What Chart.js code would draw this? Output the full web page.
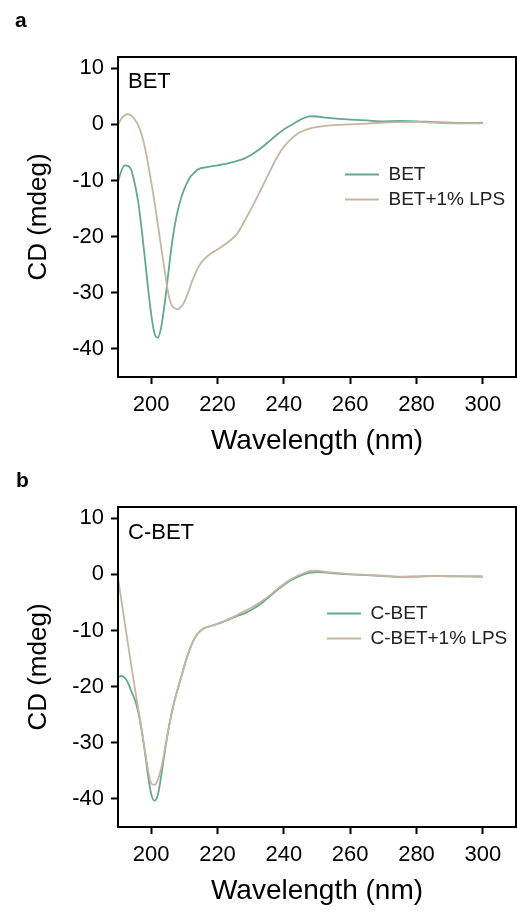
<!DOCTYPE html>
<html>
<head>
<meta charset="utf-8">
<script src="https://cdn.jsdelivr.net/npm/chart.js@4"></script>
<style>
html, body { margin: 0; padding: 0; background: #fff; }
#wrap { position: relative; width: 517px; height: 915px; overflow: hidden; }
.panel { position: absolute; left: 0; width: 517px; height: 465px; }
</style>
</head>
<body>
<div id="wrap">
  <div class="panel" style="top:0px"><canvas id="chartA"></canvas></div>
  <div class="panel" style="top:450px"><canvas id="chartB"></canvas></div>
</div>
<script>
// ---------- data ----------
const wavelengthA = [190,191,192,193,194,195,196,197,198,199,200,201,202,203,204,205,206,207,208,209,210,211,212,213,214,215,216,218,220,222,224,226,228,230,232,234,236,238,240,242,244,246,248,250,252,255,260,265,270,275,280,285,290,295,300];
const betValues = [-10.2,-8.3,-7.3,-7.4,-8.1,-10.4,-13.5,-18.0,-23.3,-28.8,-33.8,-37.2,-38.0,-36.2,-32.3,-27.4,-22.4,-18.4,-15.4,-13.2,-11.5,-10.2,-9.2,-8.6,-8.1,-7.8,-7.7,-7.5,-7.3,-7.1,-6.8,-6.5,-6.1,-5.5,-4.7,-3.8,-2.8,-1.8,-0.9,-0.2,0.5,1.1,1.45,1.4,1.25,1.05,0.85,0.7,0.55,0.6,0.55,0.4,0.3,0.25,0.3];
const betLpsValues = [-0.1,1.0,1.6,1.8,1.6,0.9,0.0,-1.6,-3.8,-6.8,-10.2,-13.8,-17.8,-21.8,-25.8,-29.6,-32.0,-32.7,-32.9,-32.5,-31.6,-30.2,-28.5,-27.0,-25.7,-24.7,-24.0,-23.0,-22.3,-21.5,-20.6,-19.4,-17.4,-15.2,-12.9,-10.5,-8.1,-5.8,-4.0,-2.7,-1.7,-1.1,-0.7,-0.45,-0.3,-0.15,0.0,0.15,0.3,0.4,0.45,0.3,0.2,0.2,0.2];

const wavelengthB = [190,191,192,193,194,195,196,197,198,199,200,201,202,203,204,205,206,207,208,209,210,211,212,213,214,215,216,218,220,222,224,226,228,230,232,234,236,238,240,242,244,246,248,250,252,255,260,265,270,275,280,285,290,295,300];
const cbetValues = [-18.3,-18.1,-18.4,-19.3,-20.8,-22.2,-24.2,-27.3,-31.2,-35.6,-39.1,-40.3,-39.3,-36.0,-32.0,-28.3,-25.2,-22.6,-20.4,-18.4,-16.3,-14.4,-12.8,-11.5,-10.6,-10.0,-9.6,-9.2,-8.8,-8.4,-7.9,-7.4,-7.0,-6.4,-5.7,-4.8,-3.8,-2.8,-1.9,-1.1,-0.5,0.0,0.3,0.4,0.35,0.2,0.0,-0.15,-0.3,-0.45,-0.4,-0.3,-0.35,-0.35,-0.4];
const cbetLpsValues = [-0.7,-4.5,-8.5,-12.4,-16.2,-20.0,-23.6,-27.1,-30.9,-34.7,-37.2,-37.5,-36.6,-34.6,-31.6,-28.3,-25.2,-22.6,-20.4,-18.4,-16.3,-14.4,-12.8,-11.5,-10.6,-10.0,-9.6,-9.2,-8.8,-8.3,-7.8,-7.2,-6.6,-6.0,-5.3,-4.5,-3.6,-2.6,-1.7,-0.9,-0.3,0.2,0.6,0.65,0.5,0.3,0.05,-0.1,-0.25,-0.4,-0.35,-0.3,-0.3,-0.35,-0.35];

const xTickValues = [200, 220, 240, 260, 280, 300];
const yTickValues = [-40, -30, -20, -10, 0, 10];

const xLabel = 'Wavelength (nm)';
const yLabel = 'CD (mdeg)';

// ---------- styling ----------
const FONT = '"Liberation Sans", Arial, Helvetica, sans-serif';
const GREEN = '#64a792';
const TAN = '#c6b6a0';

Chart.defaults.font.family = FONT;
Chart.defaults.color = '#000';

const framePlugin = {
  id: 'frame',
  afterDatasetsDraw(chart) {
    const { ctx, chartArea: a } = chart;
    ctx.save();
    ctx.strokeStyle = '#000';
    ctx.lineWidth = 2;
    ctx.strokeRect(a.left, a.top, a.right - a.left, a.bottom - a.top);
    ctx.restore();
  }
};

const panelTextPlugin = {
  id: 'panelText',
  afterDraw(chart, args, opts) {
    const { ctx, chartArea: a } = chart;
    ctx.save();
    ctx.fillStyle = '#000';
    ctx.textAlign = 'left';
    ctx.textBaseline = 'alphabetic';
    ctx.font = 'bold 21px ' + FONT;
    ctx.fillText(opts.panel, opts.panelX, opts.panelY);
    ctx.font = '22px ' + FONT;
    ctx.fillText(opts.sample, a.left + opts.sampleDx, a.top + opts.sampleDy);
    ctx.restore();
  }
};

const legendPlacer = {
  id: 'legendPlacer',
  afterLayout(chart, args, opts) {
    const lg = chart.legend;
    if (!lg) return;
    const a = chart.chartArea;
    lg.left = a.left + opts.dx;
    lg.top = a.top + opts.dy;
    lg.right = a.right;
    lg.bottom = a.bottom;
  }
};

function series(xs, ys) {
  return xs.map((x, i) => ({ x: x, y: ys[i] }));
}

function makeChart(id, labels, xs, ys1, ys2, text, legendPos) {
  return new Chart(document.getElementById(id), {
    type: 'line',
    data: {
      datasets: [
        { label: labels[0], data: series(xs, ys1), borderColor: GREEN, backgroundColor: GREEN,
          borderWidth: 1.8, pointRadius: 0, fill: false, cubicInterpolationMode: 'monotone', order: 1 },
        { label: labels[1], data: series(xs, ys2), borderColor: TAN, backgroundColor: TAN,
          borderWidth: 1.8, pointRadius: 0, fill: false, cubicInterpolationMode: 'monotone', order: 0 }
      ]
    },
    options: {
      responsive: true,
      maintainAspectRatio: false,
      animation: false,
      devicePixelRatio: 1,
      events: [],
      layout: { padding: { top: 57, right: 1, bottom: 15, left: 0 } },
      scales: {
        x: {
          type: 'linear', min: 190, max: 310,
          afterBuildTicks: s => { s.ticks = xTickValues.map(v => ({ value: v })); },
          ticks: { color: '#000', font: { size: 22 }, padding: 8, maxRotation: 0, autoSkip: false },
          grid: { drawOnChartArea: false, drawTicks: true, tickLength: 7, tickWidth: 2, tickColor: '#000' },
          border: { display: false },
          title: { display: true, text: xLabel, color: '#000', font: { size: 28 }, padding: { top: 0, bottom: -8 } },
          afterFit: s => { s.height = 73; }
        },
        y: {
          type: 'linear', min: -45, max: 12,
          afterBuildTicks: s => { s.ticks = yTickValues.map(v => ({ value: v })); },
          ticks: { color: '#000', font: { size: 22 }, padding: 7 },
          grid: { drawOnChartArea: false, drawTicks: true, tickLength: 7, tickWidth: 2, tickColor: '#000' },
          border: { display: false },
          title: { display: true, text: yLabel, color: '#000', font: { size: 26 }, padding: { top: 23, bottom: 0 } },
          afterFit: s => { s.width = 118; }
        }
      },
      plugins: {
        tooltip: { enabled: false },
        legend: {
          position: 'chartArea',
          align: 'start',
          labels: {
            usePointStyle: true, pointStyle: 'line', pointStyleWidth: 34,
            padding: 6, color: '#222', font: { size: 19 },
            sort: (a, b) => a.datasetIndex - b.datasetIndex
          }
        },
        legendPlacer: legendPos,
        panelText: text
      }
    },
    plugins: [framePlugin, panelTextPlugin, legendPlacer]
  });
}

makeChart('chartA', ['BET', 'BET+1% LPS'], wavelengthA, betValues, betLpsValues,
  { panel: 'a', panelX: 15, panelY: 27, sample: 'BET', sampleDx: 10, sampleDy: 31 },
  { dx: 221, dy: 102 });

makeChart('chartB', ['C-BET', 'C-BET+1% LPS'], wavelengthB, cbetValues, cbetLpsValues,
  { panel: 'b', panelX: 16, panelY: 37, sample: 'C-BET', sampleDx: 10, sampleDy: 32 },
  { dx: 203, dy: 91 });
</script>
</body>
</html>
